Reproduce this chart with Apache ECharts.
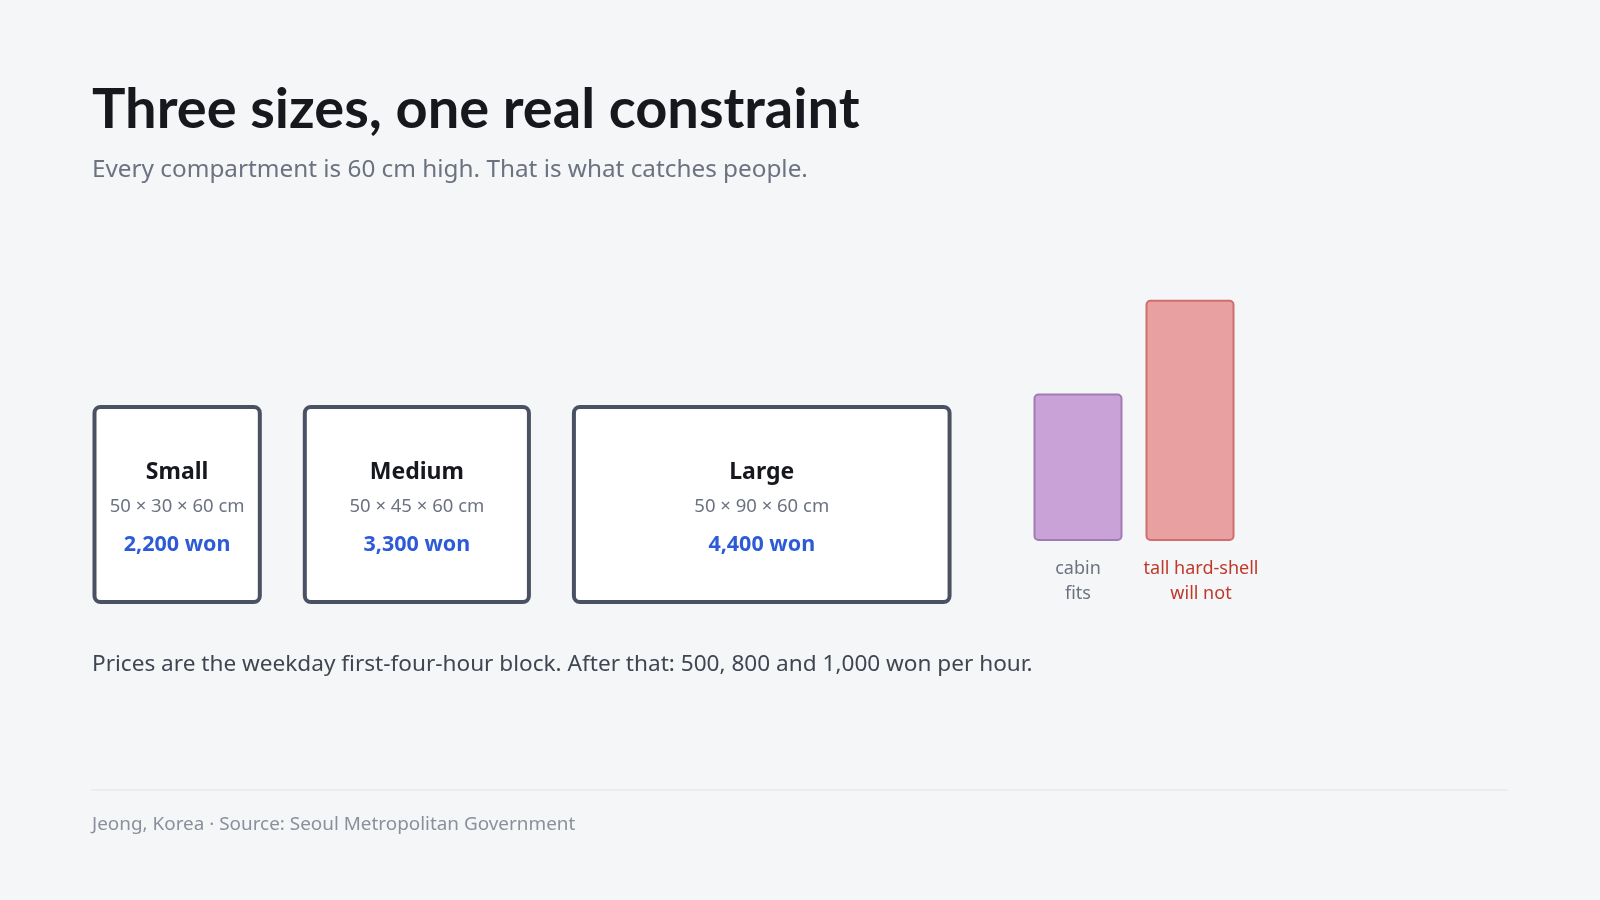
<!DOCTYPE html>
<html>
<head>
<meta charset="utf-8">
<script src="https://cdn.jsdelivr.net/npm/echarts@6/dist/echarts.min.js"></script>
<style>
  html, body { margin: 0; padding: 0; background: #f5f6f8; }
  #chart { width: 1600px; height: 900px; }
</style>
</head>
<body>
<div id="chart"></div>
<script>
// locker compartments
var sizeNames = ['Small', 'Medium', 'Large'];
var sizeDepth = [50, 50, 50];
var sizeWidth = [30, 45, 90];
var sizeHeight = [60, 60, 60];
var sizePrice = [2200, 3300, 4400];

// luggage to compare against
var bagNames = ['cabin', 'tall hard-shell'];
var bagVerdicts = ['fits', 'will not'];
var bagHeights = [55, 90];

var HEAD = 'Lato';
var BODY = '"Noto Sans"';

var chart = echarts.init(document.getElementById('chart'));

function priceText(p) {
  return p.toLocaleString('en-US') + ' won';
}

// on-screen width of a compartment box (power scale on its width in cm)
function boxPx(w) {
  return 13.9 * Math.pow(w, 0.735);
}
var boxGap = 41;
var boxStarts = [];
var acc = 0;
sizeWidth.forEach(function (w) {
  boxStarts.push(acc);
  acc += boxPx(w) + boxGap;
});
var boxSpan = acc - boxGap;

var option = {
  backgroundColor: '#f5f6f8',
  animation: false,
  textStyle: { fontFamily: BODY },
  grid: [
    { left: 92.5, top: 405, width: boxSpan, height: 199 },
    { left: 1022, top: 273, width: 224, height: 268 }
  ],
  xAxis: [
    { type: 'value', gridIndex: 0, min: 0, max: boxSpan, show: false },
    { type: 'category', gridIndex: 1, data: bagNames, show: false }
  ],
  yAxis: [
    { type: 'value', gridIndex: 0, min: 0, max: 60, show: false },
    { type: 'value', gridIndex: 1, min: 0, max: 100, show: false }
  ],
  graphic: [
    {
      type: 'text',
      style: {
        x: 92, y: 110, verticalAlign: 'middle',
        text: 'Three sizes, one real constraint', font: 'bold 56px ' + HEAD, fill: '#16181e'
      }
    },
    {
      type: 'text',
      style: {
        x: 92, y: 170, verticalAlign: 'middle',
        text: 'Every compartment is 60 cm high. That is what catches people.', font: '24.3px ' + BODY, fill: '#6b7280'
      }
    },
    {
      type: 'text',
      style: {
        x: 92, y: 665, verticalAlign: 'middle',
        text: 'Prices are the weekday first-four-hour block. After that: 500, 800 and 1,000 won per hour.',
        font: '22.6px ' + BODY, fill: '#3f4652'
      }
    },
    {
      type: 'rect', shape: { x: 91, y: 789.5, width: 1417, height: 1 },
      style: { fill: '#e1e3e8' }
    },
    {
      type: 'text',
      style: {
        x: 92, y: 825, verticalAlign: 'middle',
        text: 'Jeong, Korea \u00b7 Source: Seoul Metropolitan Government', font: '18.9px ' + BODY, fill: '#8a909b'
      }
    }
  ],
  series: [
    {
      type: 'custom',
      xAxisIndex: 0,
      yAxisIndex: 0,
      data: sizeNames.map(function (n, i) {
        return [i, sizeWidth[i], sizeHeight[i]];
      }),
      renderItem: function (params, api) {
        var i = api.value(0);
        var x0 = boxStarts[i];
        var p0 = api.coord([x0, api.value(2)]);
        var p1 = api.coord([x0 + boxPx(api.value(1)), 0]);
        var cx = (p0[0] + p1[0]) / 2;
        var cy = (p0[1] + p1[1]) / 2;
        return {
          type: 'group',
          children: [
            {
              type: 'rect',
              shape: { x: p0[0] + 2, y: p0[1] + 2, width: p1[0] - p0[0] - 4, height: p1[1] - p0[1] - 4, r: 6 },
              style: { fill: '#ffffff', stroke: '#4a5162', lineWidth: 4 }
            },
            {
              type: 'text',
              style: {
                x: cx, y: cy - 32, text: sizeNames[i],
                font: 'bold 23px ' + BODY, fill: '#16181e', align: 'center', verticalAlign: 'middle'
              }
            },
            {
              type: 'text',
              style: {
                x: cx, y: cy + 2,
                text: sizeDepth[i] + ' \u00d7 ' + sizeWidth[i] + ' \u00d7 ' + sizeHeight[i] + ' cm',
                font: '18.5px ' + BODY, fill: '#6b7280', align: 'center', verticalAlign: 'middle'
              }
            },
            {
              type: 'text',
              style: {
                x: cx, y: cy + 40, text: priceText(sizePrice[i]),
                font: 'bold 21.5px ' + BODY, fill: '#2d5bd8', align: 'center', verticalAlign: 'middle'
              }
            }
          ]
        };
      }
    },
    {
      type: 'bar',
      xAxisIndex: 1,
      yAxisIndex: 1,
      barWidth: 89,
      data: bagHeights.map(function (h, i) {
        return {
          value: h,
          itemStyle: i === 0
            ? { color: '#c9a3d8', borderColor: '#a07bb4', borderWidth: 2, borderRadius: 4 }
            : { color: '#e8a0a0', borderColor: '#cf6e6e', borderWidth: 2, borderRadius: 4 },
          label: i === 0
            ? { color: '#6b7280', offset: [0, 0] }
            : { color: '#c0392b', offset: [11, 0] }
        };
      }),
      label: {
        show: true,
        position: 'bottom',
        distance: 15,
        fontSize: 18,
        lineHeight: 25,
        align: 'center',
        formatter: function (p) {
          return bagNames[p.dataIndex] + '\n' + bagVerdicts[p.dataIndex];
        }
      }
    }
  ]
};

chart.setOption(option);
</script>
</body>
</html>
